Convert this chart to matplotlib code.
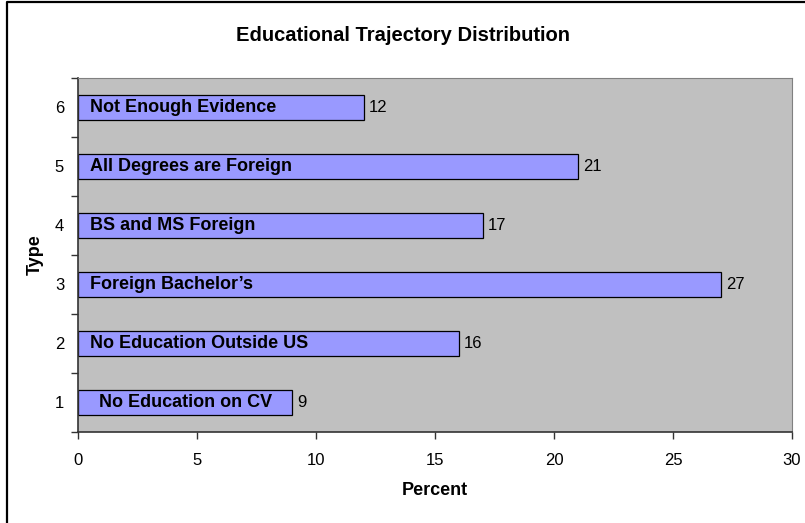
import matplotlib
matplotlib.use("Agg")
import matplotlib.pyplot as plt
from matplotlib.lines import Line2D

# chart data
types = [1, 2, 3, 4, 5, 6]
percents = [9, 16, 27, 17, 21, 12]
names = ["No Education on CV", "No Education Outside US", "Foreign Bachelor\u2019s",
         "BS and MS Foreign", "All Degrees are Foreign", "Not Enough Evidence"]
x_ticks = [0, 5, 10, 15, 20, 25, 30]

plt.rcParams['font.family'] = ['Liberation Sans', 'DejaVu Sans']

fig = plt.figure(figsize=(8.05, 5.23), dpi=100)
# outer chart frame, only left and top edges are inside the picture
fig.lines.append(Line2D([0.0093, 0.0093, 1.0], [0.0, 0.9962, 0.9962], transform=fig.transFigure,
                        color='black', linewidth=1.6))

ax = fig.add_axes([0.0969, 0.174, 0.887, 0.677])
ax.set_facecolor('#C0C0C0')

ax.barh(types, percents, height=0.42, color='#9999FF', edgecolor='black', linewidth=0.9)

for t, p, name in zip(types, percents, names):
    ax.text(p + 0.22, t, str(p), va='center', ha='left', fontsize=12)
    if t == 1:
        ax.text(p / 2, t, name, va='center', ha='center', fontsize=13, fontweight='bold')
    else:
        ax.text(0.5, t, name, va='center', ha='left', fontsize=13, fontweight='bold')

ax.set_xlim(0, 30)
ax.set_ylim(0.5, 6.5)
ax.set_xticks(x_ticks)
ax.set_xticklabels([str(v) for v in x_ticks], fontsize=12)

# ticks sit between categories, labels at the category centres
ax.set_yticks([v + 0.5 for v in [0] + types])
ax.set_yticklabels([])
ax.set_yticks(types, minor=True)
ax.set_yticklabels([str(t) for t in types], minor=True, fontsize=12)
ax.tick_params(axis='y', which='minor', length=0, pad=10)
ax.tick_params(axis='y', which='major', length=5, width=1, color='#333333')
ax.tick_params(axis='x', length=5, width=1, color='#333333', pad=10)

for side in ['top', 'right']:
    ax.spines[side].set_color('#808080')
for side in ['left', 'bottom']:
    ax.spines[side].set_color('#333333')
    ax.spines[side].set_linewidth(1.2)

ax.set_xlabel('Percent', fontsize=13, fontweight='bold', labelpad=10)
ax.set_ylabel('Type', fontsize=13, fontweight='bold', labelpad=8)
fig.text(0.5, 0.933, 'Educational Trajectory Distribution', ha='center', va='center',
         fontsize=14.5, fontweight='bold')

fig.savefig('out.png', dpi=100)
